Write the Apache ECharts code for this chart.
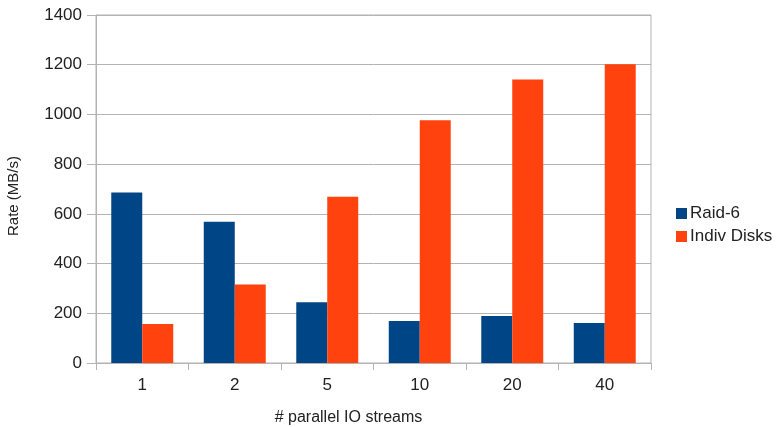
<!DOCTYPE html>
<html><head><meta charset="utf-8">
<script src="https://cdn.jsdelivr.net/npm/echarts@6/dist/echarts.min.js"></script>
<style>html,body{margin:0;padding:0;background:#fff}#c{width:778px;height:427px}</style>
</head><body><div id="c"></div>
<script>
var categories = ['1','2','5','10','20','40'];
var raid6 = [686, 568, 244, 169, 189, 161];
var indivDisks = [157, 316, 669, 977, 1141, 1202];
var yTicks = [0, 200, 400, 600, 800, 1000, 1200, 1400];

var chart = echarts.init(document.getElementById('c'));
var font = 'Liberation Sans, Arial, sans-serif';
chart.setOption({
  animation: false,
  textStyle: {fontFamily: font},
  grid: {left: 96, right: 127, top: 15, bottom: 64, show: true, borderColor: '#b3b3b3', borderWidth: 1,
         containLabel: false, outerBoundsMode: 'none'},
  legend: {
    orient: 'vertical', left: 671, top: 200, itemWidth: 11, itemHeight: 11, itemGap: 6,
    icon: 'rect',
    textStyle: {fontSize: 17, color: '#222', fontFamily: font, padding: [0, 0, 0, -2]},
    data: ['Raid-6', 'Indiv Disks']
  },
  graphic: [{
    type: 'text', x: 14, y: 196, rotation: Math.PI / 2,
    style: {text: 'Rate (MB/s)', font: '15px Liberation Sans, Arial, sans-serif', fill: '#222',
            align: 'center', verticalAlign: 'middle'}
  }],
  xAxis: {
    type: 'category', data: categories,
    name: '# parallel IO streams', nameLocation: 'middle', nameGap: 47,
    nameTextStyle: {fontSize: 16, color: '#222', padding: [0, 50, 0, 0]},
    axisLine: {lineStyle: {color: '#b3b3b3'}},
    axisTick: {show: true, length: 7, lineStyle: {color: '#b3b3b3'}},
    axisLabel: {fontSize: 17, color: '#222', margin: 14}
  },
  yAxis: {
    type: 'value', min: yTicks[0], max: yTicks[yTicks.length - 1], interval: 200,
    axisLine: {show: true, lineStyle: {color: '#b3b3b3'}},
    axisTick: {show: true, length: 9, lineStyle: {color: '#b3b3b3'}},
    splitLine: {lineStyle: {color: '#b3b3b3'}},
    axisLabel: {fontSize: 17, color: '#222', margin: 14, formatter: function (v) { return String(v); }}
  },
  series: [
    {name: 'Raid-6', type: 'bar', data: raid6, barGap: '0%', barCategoryGap: '33%', itemStyle: {color: '#004586'}},
    {name: 'Indiv Disks', type: 'bar', data: indivDisks, barGap: '0%', barCategoryGap: '33%', itemStyle: {color: '#ff420e'}}
  ]
});
</script></body></html>
